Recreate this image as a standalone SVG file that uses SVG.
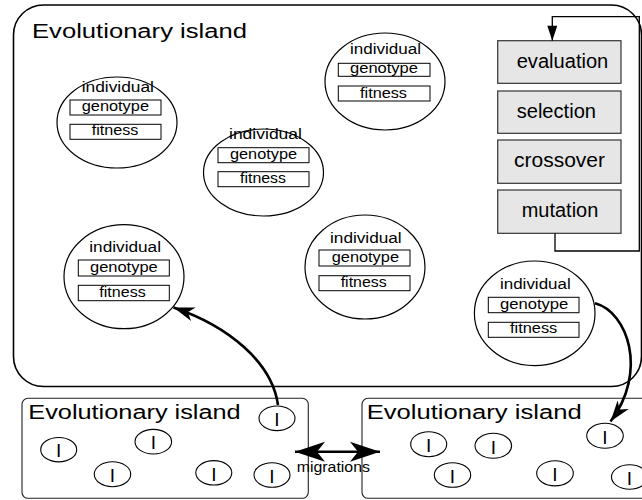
<svg xmlns="http://www.w3.org/2000/svg" width="642" height="500" viewBox="0 0 642 500">
  <style>
    text { font-family: "Liberation Sans", Arial, sans-serif; fill: #000; }
    .island { fill: #fff; stroke: #000; stroke-width: 1.6; }
    .small-island { fill: #fff; stroke: #222; stroke-width: 1.1; }
    .title { font-size: 20px; }
    .indiv { fill: #fff; stroke: #000; stroke-width: 1.2; }
    .field { fill: #fff; stroke: #000; stroke-width: 1; }
    .lbl { font-size: 15.5px; }
    .op { fill: #e6e6e6; stroke: #333; stroke-width: 1.2; }
    .optext { font-size: 20px; }
    .mini { fill: #fff; stroke: #000; stroke-width: 1.1; }
    .mtext { font-size: 19px; text-anchor: middle; }
    .loop { fill: none; stroke: #000; stroke-width: 1.3; }
    .mig { fill: none; stroke: #000; stroke-width: 2.6; }
  </style>
  <defs>
    <marker id="tri" markerUnits="userSpaceOnUse" viewBox="-16 -6 17 12" refX="0" refY="0" markerWidth="17" markerHeight="12" orient="auto">
      <path d="M0,0 L-15,-5 L-15,5 Z" fill="#000"/>
    </marker>
    <marker id="barb" markerUnits="userSpaceOnUse" viewBox="-22 -8 23 16" refX="0" refY="0" markerWidth="23" markerHeight="16" orient="auto">
      <path d="M0,0 L-21,-7 L-15,0 L-21,7 Z" fill="#000"/>
    </marker>
    <marker id="bigbarb" markerUnits="userSpaceOnUse" viewBox="-31 -11 32 22" refX="0" refY="0" markerWidth="32" markerHeight="22" orient="auto-start-reverse">
      <path d="M0,0 L-30,-10 L-22,0 L-30,10 Z" fill="#000"/>
    </marker>
  </defs>

  <!-- main island -->
  <g id="island-main">
    <rect class="island" x="13.5" y="5" width="628" height="381.5" rx="30" ry="30"/>
    <text class="title" x="32" y="37.5" textLength="215" lengthAdjust="spacingAndGlyphs">Evolutionary island</text>
  </g>

  <!-- individuals -->
  <g id="ind-1">
    <ellipse class="indiv" cx="117" cy="122.5" rx="60" ry="45.5"/>
    <text class="lbl" x="81.7" y="92.3" textLength="72.3" lengthAdjust="spacingAndGlyphs">individual</text>
    <rect class="field" x="70" y="100" width="91" height="15"/>
    <text class="lbl" x="81.7" y="111" textLength="67.3" lengthAdjust="spacingAndGlyphs">genotype</text>
    <rect class="field" x="70" y="124.3" width="91" height="15"/>
    <text class="lbl" x="91.7" y="135" textLength="46.6" lengthAdjust="spacingAndGlyphs">fitness</text>
  </g>
  <g id="ind-2">
    <ellipse class="indiv" cx="263.5" cy="172.5" rx="60" ry="43.5"/>
    <text class="lbl" x="229" y="139.3" textLength="73" lengthAdjust="spacingAndGlyphs">individual</text>
    <rect class="field" x="218" y="147.7" width="91" height="15"/>
    <text class="lbl" x="230" y="158.5" textLength="67" lengthAdjust="spacingAndGlyphs">genotype</text>
    <rect class="field" x="218" y="171.7" width="91" height="15"/>
    <text class="lbl" x="240" y="182.7" textLength="46" lengthAdjust="spacingAndGlyphs">fitness</text>
  </g>
  <g id="ind-3">
    <ellipse class="indiv" cx="385" cy="81.5" rx="60" ry="48.5"/>
    <text class="lbl" x="350" y="54.3" textLength="71" lengthAdjust="spacingAndGlyphs">individual</text>
    <rect class="field" x="338.3" y="63.3" width="91.7" height="13"/>
    <text class="lbl" x="350" y="73" textLength="68" lengthAdjust="spacingAndGlyphs">genotype</text>
    <rect class="field" x="338.3" y="86" width="91.7" height="15"/>
    <text class="lbl" x="360" y="97.7" textLength="47" lengthAdjust="spacingAndGlyphs">fitness</text>
  </g>
  <g id="ind-4">
    <ellipse class="indiv" cx="124" cy="276.7" rx="60" ry="52"/>
    <text class="lbl" x="89.3" y="251.7" textLength="71.7" lengthAdjust="spacingAndGlyphs">individual</text>
    <rect class="field" x="78.3" y="260" width="91" height="16"/>
    <text class="lbl" x="90" y="272.3" textLength="67.7" lengthAdjust="spacingAndGlyphs">genotype</text>
    <rect class="field" x="78.3" y="285.3" width="91" height="15.4"/>
    <text class="lbl" x="99.3" y="296.7" textLength="46.4" lengthAdjust="spacingAndGlyphs">fitness</text>
  </g>
  <g id="ind-5">
    <ellipse class="indiv" cx="365" cy="267" rx="60" ry="52"/>
    <text class="lbl" x="330" y="242.7" textLength="71.7" lengthAdjust="spacingAndGlyphs">individual</text>
    <rect class="field" x="319" y="250" width="91" height="16"/>
    <text class="lbl" x="331.7" y="262.3" textLength="67.3" lengthAdjust="spacingAndGlyphs">genotype</text>
    <rect class="field" x="319" y="275.7" width="91" height="15"/>
    <text class="lbl" x="340.7" y="286.7" textLength="46" lengthAdjust="spacingAndGlyphs">fitness</text>
  </g>
  <g id="ind-6">
    <ellipse class="indiv" cx="534.7" cy="313.3" rx="60.3" ry="52.3"/>
    <text class="lbl" x="500" y="289.3" textLength="70.7" lengthAdjust="spacingAndGlyphs">individual</text>
    <rect class="field" x="488.3" y="297.3" width="90.7" height="15.4"/>
    <text class="lbl" x="500" y="309" textLength="68.3" lengthAdjust="spacingAndGlyphs">genotype</text>
    <rect class="field" x="488.3" y="322.3" width="90.7" height="15"/>
    <text class="lbl" x="510" y="332.7" textLength="47.3" lengthAdjust="spacingAndGlyphs">fitness</text>
  </g>

  <!-- genetic operators -->
  <g id="op-evaluation">
    <rect class="op" x="497.7" y="40.7" width="123.3" height="42.6"/>
    <text class="optext" x="516.7" y="68.3" textLength="91.6" lengthAdjust="spacingAndGlyphs">evaluation</text>
  </g>
  <g id="op-selection">
    <rect class="op" x="497.7" y="91" width="123.3" height="42.3"/>
    <text class="optext" x="516.7" y="118.3" textLength="79.3" lengthAdjust="spacingAndGlyphs">selection</text>
  </g>
  <g id="op-crossover">
    <rect class="op" x="497.7" y="140" width="123.3" height="43.3"/>
    <text class="optext" x="514" y="166.7" textLength="91" lengthAdjust="spacingAndGlyphs">crossover</text>
  </g>
  <g id="op-mutation">
    <rect class="op" x="497.7" y="190" width="123.3" height="43.3"/>
    <text class="optext" x="521.7" y="216.7" textLength="76.6" lengthAdjust="spacingAndGlyphs">mutation</text>
  </g>

  <!-- neighbouring islands -->
  <g id="island-left">
    <rect class="small-island" x="22" y="398.3" width="286.3" height="100" rx="6" ry="6"/>
    <text class="title" x="28.3" y="419.3" textLength="212.4" lengthAdjust="spacingAndGlyphs">Evolutionary island</text>
    <ellipse class="mini" cx="277" cy="418.3" rx="18" ry="12.3"/>
    <text class="mtext" x="277" y="426">I</text>
    <ellipse class="mini" cx="58.7" cy="449.7" rx="18" ry="12.2"/>
    <text class="mtext" x="58.7" y="457.4">I</text>
    <ellipse class="mini" cx="153.3" cy="441.7" rx="18.3" ry="12.3"/>
    <text class="mtext" x="153.3" y="449.4">I</text>
    <ellipse class="mini" cx="112.5" cy="474.2" rx="18.2" ry="12.5"/>
    <text class="mtext" x="112.5" y="481.9">I</text>
    <ellipse class="mini" cx="213.8" cy="472.8" rx="18" ry="12.2"/>
    <text class="mtext" x="213.8" y="480.5">I</text>
    <ellipse class="mini" cx="272" cy="475" rx="18" ry="12.3"/>
    <text class="mtext" x="272" y="482.7">I</text>
  </g>
  <g id="island-right">
    <rect class="small-island" x="362" y="398.3" width="290" height="100" rx="6" ry="6"/>
    <text class="title" x="366.7" y="419.3" textLength="215" lengthAdjust="spacingAndGlyphs">Evolutionary island</text>
    <ellipse class="mini" cx="428.7" cy="444.2" rx="18" ry="12.5"/>
    <text class="mtext" x="428.7" y="451.9">I</text>
    <ellipse class="mini" cx="493.3" cy="445.8" rx="18.3" ry="12.5"/>
    <text class="mtext" x="493.3" y="453.5">I</text>
    <ellipse class="mini" cx="605" cy="435.8" rx="18.3" ry="12.5"/>
    <text class="mtext" x="605" y="443.5">I</text>
    <ellipse class="mini" cx="452.5" cy="475" rx="18.2" ry="12.3"/>
    <text class="mtext" x="452.5" y="482.7">I</text>
    <ellipse class="mini" cx="555" cy="473.3" rx="18.3" ry="12.6"/>
    <text class="mtext" x="555" y="481">I</text>
    <ellipse class="mini" cx="629.5" cy="477" rx="18" ry="12.2"/>
    <text class="mtext" x="629.5" y="484.7">I</text>
  </g>

  <!-- connectors -->
  <g id="connectors">
    <path class="loop" d="M555,233.3 V251 H639.3 V16.7 H552.3 V40.7" marker-end="url(#tri)"/>
    <path class="mig" d="M278,405 C272,362 228,326 173.5,307.5" marker-end="url(#barb)"/>
    <path class="mig" d="M595,303.3 C628,312 648,372 610.5,421.5" marker-end="url(#barb)"/>
    <path class="mig" d="M295,451.7 H380" marker-start="url(#bigbarb)" marker-end="url(#bigbarb)"/>
    <text x="296.7" y="472" font-size="14" textLength="73.3" lengthAdjust="spacingAndGlyphs">migrations</text>
  </g>
</svg>
